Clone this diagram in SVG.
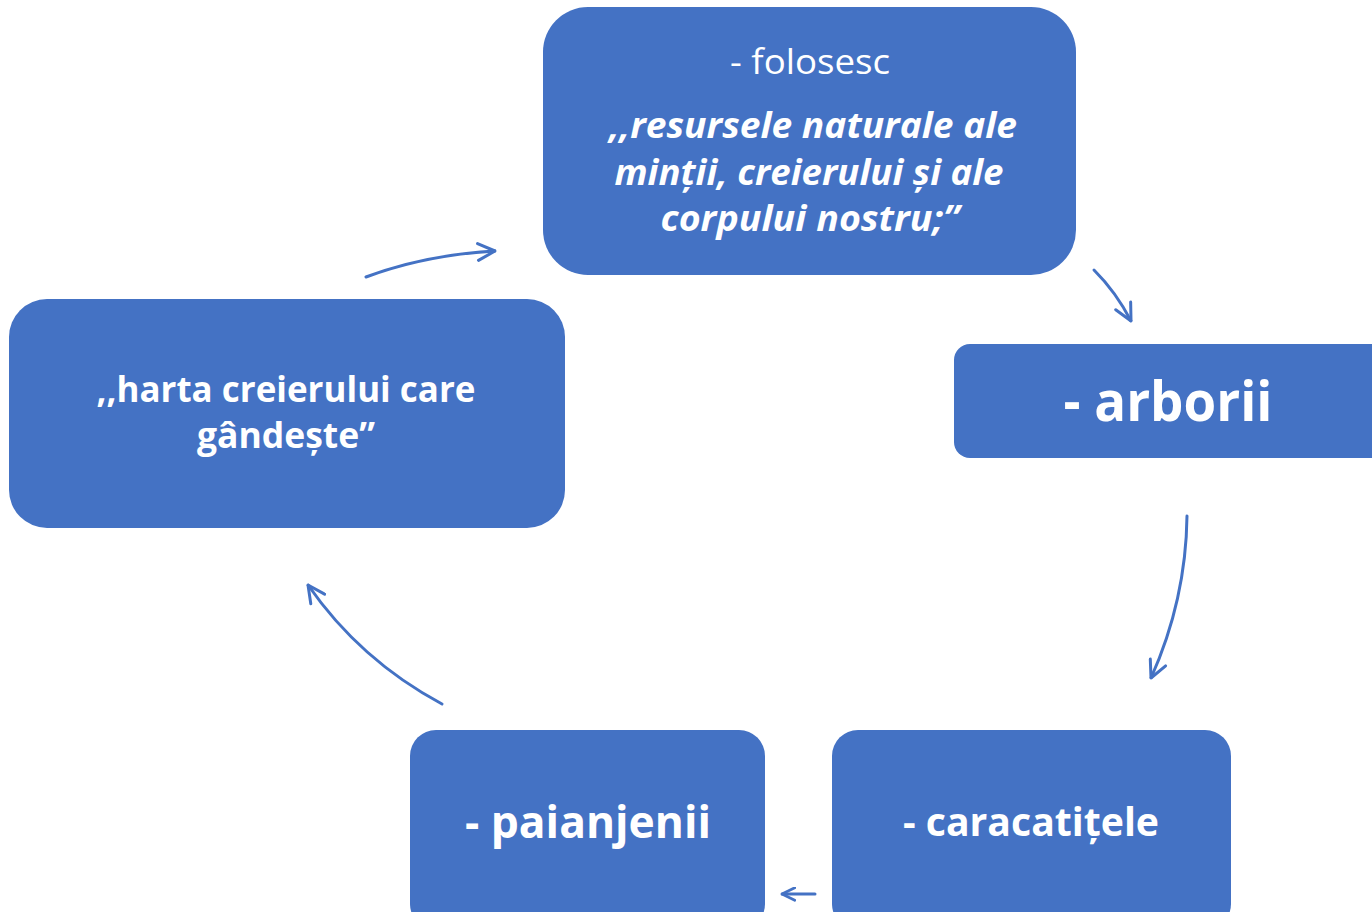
<svg xmlns="http://www.w3.org/2000/svg" width="1372" height="912" viewBox="0 0 1372 912">
<defs>
<style>
.box{fill:#4472C4;}
.t{fill:#FFFFFF;font-family:"Open Sans","Noto Sans","DejaVu Sans",sans-serif;text-anchor:middle;}
.b{font-weight:bold;}
.bi{font-weight:bold;font-style:italic;}
.c{fill:none;stroke:#4472C4;stroke-width:3;stroke-linecap:round;}
</style>
<marker id="ah" viewBox="0 0 10 10" refX="9.5" refY="5" markerWidth="20" markerHeight="20" markerUnits="userSpaceOnUse" orient="auto">
<path d="M1,0.8 L9.5,5 L1,9.2" fill="none" stroke="#4472C4" stroke-width="1.5" stroke-linecap="round" stroke-linejoin="round"/>
</marker>
<marker id="ahs" viewBox="0 0 10 10" refX="9.5" refY="5" markerWidth="15" markerHeight="15" markerUnits="userSpaceOnUse" orient="auto">
<path d="M1,0.8 L9.5,5 L1,9.2" fill="none" stroke="#4472C4" stroke-width="1.8" stroke-linecap="round" stroke-linejoin="round"/>
</marker>
</defs>
<rect width="1372" height="912" fill="#FFFFFF"/>
<g id="connectors">
<path class="c" d="M366,277 Q425,255 495,251" marker-end="url(#ah)"/>
<path class="c" d="M1094,270 Q1116,292 1131,321" marker-end="url(#ah)"/>
<path class="c" d="M1187,516 Q1186,600 1151,678" marker-end="url(#ah)"/>
<path class="c" d="M815,894 L782,894" marker-end="url(#ahs)"/>
<path class="c" d="M442,704 Q360,660 308,585" marker-end="url(#ah)"/>
</g>
<g id="node-top">
<rect class="box" x="543" y="7" width="533" height="268" rx="45"/>
<text class="t" x="810" y="74" font-size="35" textLength="160" lengthAdjust="spacingAndGlyphs">- folosesc</text>
<text class="t bi" x="813" y="138" font-size="35" textLength="408" lengthAdjust="spacingAndGlyphs">,,resursele naturale ale</text>
<text class="t bi" x="809" y="185" font-size="35" textLength="389" lengthAdjust="spacingAndGlyphs">minții, creierului și ale</text>
<text class="t bi" x="810" y="231" font-size="35" textLength="299" lengthAdjust="spacingAndGlyphs">corpului nostru;”</text>
</g>
<g id="node-arborii">
<rect class="box" x="954" y="344" width="440" height="114" rx="16"/>
<text class="t b" x="1168" y="421" font-size="56" textLength="209" lengthAdjust="spacingAndGlyphs">- arborii</text>
</g>
<g id="node-harta">
<rect class="box" x="9" y="299" width="556" height="229" rx="38"/>
<text class="t b" x="286" y="402" font-size="36" textLength="379" lengthAdjust="spacingAndGlyphs">,,harta creierului care</text>
<text class="t b" x="286" y="448" font-size="36" textLength="178" lengthAdjust="spacingAndGlyphs">gândește”</text>
</g>
<g id="node-paianjenii">
<rect class="box" x="410" y="730" width="355" height="200" rx="26"/>
<text class="t b" x="588" y="838" font-size="44" textLength="246" lengthAdjust="spacingAndGlyphs">- paianjenii</text>
</g>
<g id="node-caracatitele">
<rect class="box" x="832" y="730" width="399" height="200" rx="26"/>
<text class="t b" x="1031" y="836" font-size="40" textLength="256" lengthAdjust="spacingAndGlyphs">- caracatițele</text>
</g>
</svg>
